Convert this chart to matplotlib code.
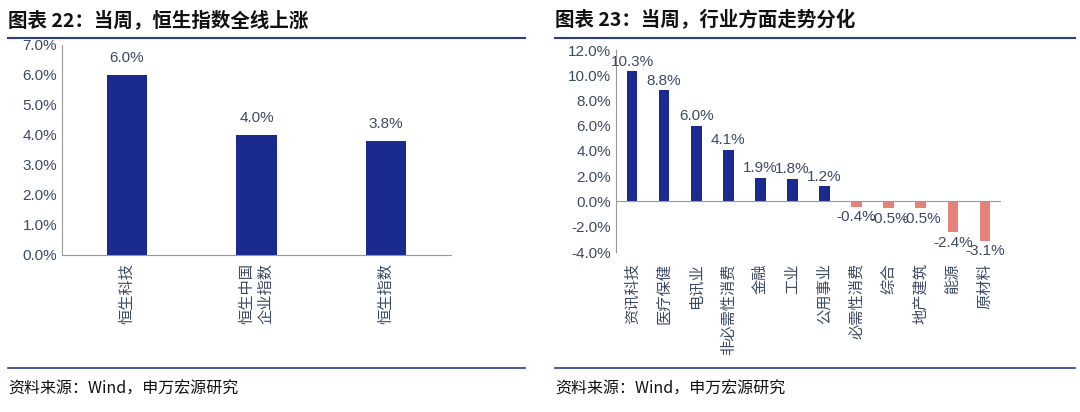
import matplotlib
matplotlib.use("Agg")
import matplotlib.pyplot as plt
from matplotlib.lines import Line2D
from matplotlib.ticker import FuncFormatter

plt.rcParams["font.family"] = ["Liberation Sans", "Noto Sans CJK SC"]

left_cats = ["恒生科技", "恒生中国\n企业指数", "恒生指数"]
left_vals = [6.0, 4.0, 3.8]
right_cats = ["资讯科技", "医疗保健", "电讯业", "非必需性消费", "金融", "工业", "公用事业",
              "必需性消费", "综合", "地产建筑", "能源", "原材料"]
right_vals = [10.3, 8.8, 6.0, 4.1, 1.9, 1.8, 1.2, -0.4, -0.5, -0.5, -2.4, -3.1]

W, H = 1080, 412
fig = plt.figure(figsize=(W/100, H/100), dpi=100)
NAVY = "#1b2a8f"
RED = "#e5827a"
TXT = "#3d4a66"
LINE = "#2a3d8f"

def ax_at(x0, y0, x1, y1):
    return fig.add_axes([x0/W, 1-y1/H, (x1-x0)/W, (y1-y0)/H])

pct = FuncFormatter(lambda v, p: f"{v:.1f}%")

for x0, x1, t in [(8, 525, "图表 22：当周，恒生指数全线上涨"), (555, 1075, "图表 23：当周，行业方面走势分化")]:
    fig.text(x0/W, 1-20/H, t, fontsize=14, fontweight="bold", color="#111111", va="center",
             family="Noto Sans CJK SC")
    fig.add_artist(Line2D([x0/W, x1/W], [1-38/H]*2, color=LINE, lw=1.5))
    fig.add_artist(Line2D([x0/W, x1/W], [1-368/H]*2, color=LINE, lw=1.2))
    fig.text(x0/W, 1-389/H, "资料来源：Wind，申万宏源研究", fontsize=11.5, color="#111111", va="center",
             family="Noto Sans CJK SC")

# left
ax = ax_at(62, 45, 451, 255)
x = range(len(left_cats))
ax.bar(x, left_vals, width=0.31, color=NAVY)
for i, v in zip(x, left_vals):
    ax.text(i, v + 0.35, f"{v:.1f}%", ha="center", va="bottom", fontsize=11, color=TXT)
ax.set_ylim(0, 7)
ax.set_xlim(-0.5, 2.5)
ax.set_yticks(range(8))
ax.yaxis.set_major_formatter(pct)
ax.set_xticks(list(x))
ax.set_xticklabels(left_cats, rotation=90, fontsize=11, color=TXT, va="top", ha="center",
                   linespacing=1.1, family="Noto Sans CJK SC")
ax.tick_params(axis="y", labelsize=11, colors=TXT, length=0)
ax.tick_params(axis="x", length=0, pad=6)
for s in ["top", "right"]:
    ax.spines[s].set_visible(False)
ax.spines["left"].set_color("#999999")
ax.spines["bottom"].set_color("#999999")

# right
ax2 = ax_at(616, 50, 1001, 252)
x2 = range(len(right_cats))
cols = [NAVY if v >= 0 else RED for v in right_vals]
ax2.bar(x2, right_vals, width=0.33, color=cols)
for i, v in zip(x2, right_vals):
    if v >= 0:
        ax2.text(i, v + 0.2, f"{v:.1f}%", ha="center", va="bottom", fontsize=11, color=TXT)
    else:
        ax2.text(i, v - 0.3, f"{v:.1f}%", ha="center", va="top", fontsize=11, color=TXT)
ax2.set_ylim(-4, 12)
ax2.set_xlim(-0.5, len(right_cats)-0.5)
ax2.set_yticks(range(-4, 13, 2))
ax2.yaxis.set_major_formatter(pct)
ax2.set_xticks(list(x2))
ax2.set_xticklabels(right_cats, rotation=90, fontsize=11, color=TXT, va="top", ha="center",
                    family="Noto Sans CJK SC")
ax2.tick_params(axis="y", labelsize=11, colors=TXT, length=0)
ax2.tick_params(axis="x", length=0, pad=8)
for s in ["top", "right", "bottom"]:
    ax2.spines[s].set_visible(False)
ax2.spines["left"].set_color("#999999")
ax2.axhline(0, color="#999999", lw=0.8)

fig.savefig("out.png", dpi=100, facecolor="white")
